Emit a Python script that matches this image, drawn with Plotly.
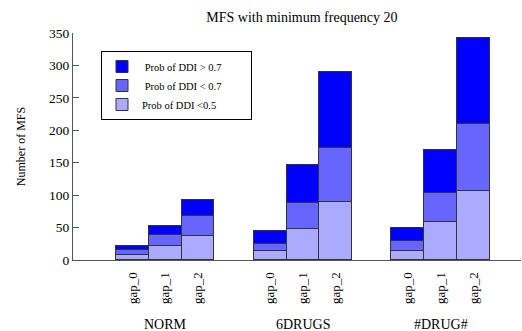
import plotly.graph_objects as go

# ---- data ----
groups = ["NORM", "6DRUGS", "#DRUG#"]
gaps = ["gap_0", "gap_1", "gap_2"]
series_names = ["Prob of DDI <0.5", "\u00a0Prob of DDI < 0.7", "\u00a0Prob of DDI > 0.7"]
low_vals = [8, 22, 37, 14, 48, 89, 14, 59, 106]     # Prob of DDI <0.5
mid_vals = [8, 16, 31, 11, 40, 84, 15, 45, 104]     # Prob of DDI < 0.7
high_vals = [5, 15, 25, 20, 59, 117, 20, 65, 132]   # Prob of DDI > 0.7
y_ticks = [0, 50, 100, 150, 200, 250, 300, 350]

# ---- layout helpers (bar-width units) ----
FIRST = 1.81
STEP = 4.2
xs = [FIRST + g * STEP + i for g in range(len(groups)) for i in range(len(gaps))]
tick_text = [gp for _ in groups for gp in gaps]
colors = ["#AAAAFF", "#6666FF", "#0000FF"]
FONT = "Liberation Serif"
PAD = "\u00a0" * 9  # right padding inside the legend box

fig = go.Figure()
for name, vals, col in zip(series_names, [low_vals, mid_vals, high_vals], colors):
    fig.add_trace(go.Bar(
        x=xs, y=vals, name=name + PAD, width=1.0,
        marker=dict(color=col, line=dict(color="#333333", width=1)),
    ))

for g, grp in enumerate(groups):
    fig.add_annotation(
        x=FIRST + g * STEP + 1, y=-0.286, xref="x", yref="paper",
        text=grp, showarrow=False, font=dict(family=FONT, size=14, color="black"),
        xanchor="center", yanchor="middle",
    )

fig.update_layout(
    width=522, height=331,
    margin=dict(l=73, r=1, t=33, b=71, autoexpand=False),
    paper_bgcolor="white", plot_bgcolor="white",
    barmode="stack", bargap=0,
    font=dict(family=FONT, size=13, color="black"),
    title=dict(text="MFS with minimum frequency 20", x=0.511, xref="paper", xanchor="center",
               y=1 - 17 / 331, yref="container", yanchor="middle",
               font=dict(family=FONT, size=14, color="black")),
    showlegend=True,
    legend=dict(x=(101 - 73) / 448, y=(260 - 51) / 227, xanchor="left", yanchor="top",
                bordercolor="black", borderwidth=1, bgcolor="white",
                traceorder="reversed", font=dict(family=FONT, size=10.5, color="black")),
    xaxis=dict(range=[0, 13.66], tickvals=xs, ticktext=tick_text, tickangle=-90,
               ticks="", showgrid=False, zeroline=False, showline=True, linecolor="#555555",
               linewidth=1, tickfont=dict(family=FONT, size=13, color="black"),
               ticklabelstandoff=6, automargin=False),
    yaxis=dict(range=[0, 350], tickvals=y_ticks, ticks="inside", ticklen=6, tickcolor="#555555",
               showgrid=False, zeroline=False, showline=True, linecolor="#555555", linewidth=1,
               tickfont=dict(family=FONT, size=13.5, color="black"), automargin=False,
               title=dict(text="Number of MFS", font=dict(family=FONT, size=12, color="black"),
                          standoff=20)),
)

fig.write_html(
    "out.html",
    config={"displayModeBar": False},
    post_script="document.body.style.margin='0';document.body.style.overflow='hidden';",
)
